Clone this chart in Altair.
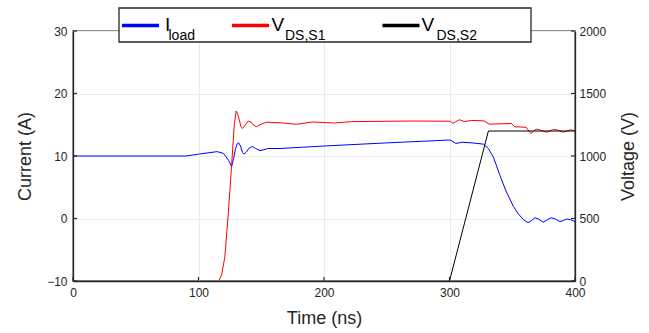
import altair as alt
import pandas as pd

# ---------------- data ----------------
time_load = [0, 90, 100, 115, 120, 124, 126.4, 128, 129.5, 131, 132, 133.5, 135, 136.3, 138,
             140.5, 143, 145.5, 149, 152, 155, 165, 200, 250,
             300, 302, 305, 310, 318, 327, 331, 335, 340, 345, 351, 355, 359, 362.6, 365, 368,
             371, 374.6, 378, 381, 384.5, 388, 391, 393.4, 396.5, 400]
i_load = [10, 10, 10.3, 10.7, 10.4, 9.3, 8.3, 9.6, 11.2, 12.0, 12.1, 11.6, 10.6, 10.3, 10.6,
          11.3, 11.5, 11.2, 10.85, 11.0, 11.2, 11.2, 11.6, 12.1,
          12.56, 12.4, 12.0, 12.2, 12.1, 11.9, 11.2, 9.8, 7.0, 4.4, 1.9, 0.7, -0.2, -0.66, -0.4,
          0.13, -0.1, -0.6, -0.2, 0.13, -0.1, -0.5, -0.3, -0.07, -0.2, -0.5]

time_s1 = [116, 118.5, 121, 123.8, 126.4, 128.5, 130, 131, 132.5, 133.8, 135, 137, 139.7, 142,
           144, 146.3, 150, 154, 165, 178, 191, 208.8, 222, 270, 301, 302.5, 305, 308, 312,
           317.6, 327.5, 331.7, 349.5, 352, 361, 364.7, 369, 373, 377.4, 383, 387, 390.6,
           396.5, 400]
v_ds_s1 = [0, 50, 194, 546, 928, 1250, 1360, 1340, 1290, 1235, 1220, 1245, 1280, 1270,
           1245, 1235, 1255, 1270, 1266, 1254, 1272, 1264, 1275, 1280, 1278, 1260, 1275, 1290,
           1275, 1285, 1281, 1255, 1260, 1234, 1230, 1180, 1216, 1205, 1190, 1213, 1205, 1190,
           1210, 1202]

time_s2 = [300, 331, 400]
v_ds_s2 = [0, 1200, 1200]

x_ticks = [0, 100, 200, 300, 400]
i_ticks = [-10, 0, 10, 20, 30]
v_ticks = [0, 500, 1000, 1500, 2000]

legend_main = ["I", "V", "V"]
legend_sub = ["load", "DS,S1", "DS,S2"]
legend_colors = ["#0000ff", "#ff0000", "#000000"]

# ---------------- layout / style ----------------
W, H = 502, 250
FONT = "Liberation Sans"
DARK = "#262626"
GRID = "#ebebeb"

xscale = alt.Scale(domain=[0, 400], nice=False, zero=False)
iscale = alt.Scale(domain=[-10, 30], nice=False, zero=False)
vscale = alt.Scale(domain=[0, 2000], nice=False, zero=True)

common_axis = dict(ticks=False, labelFont=FONT, labelFontSize=12, labelColor=DARK,
                   titleFont=FONT, titleFontSize=18, titleColor=DARK, titleFontWeight="normal",
                   domainColor=DARK, domainWidth=1.3, labelFlush=False, labelOverlap=False,
                   format="d")

xaxis = alt.Axis(values=x_ticks, title="Time (ns)", grid=True, gridColor=GRID, gridWidth=1,
                 labelPadding=6, titleX=W / 2, titleY=37, titleAlign="center",
                 titleBaseline="middle", orient="bottom", **common_axis)
iaxis = alt.Axis(values=i_ticks, title="Current (A)", grid=True, gridColor=GRID, gridWidth=1,
                 labelPadding=6, titleAngle=270, titleX=-48, titleY=H / 2, titleAlign="center",
                 titleBaseline="middle", orient="left", **common_axis)
vaxis = alt.Axis(values=v_ticks, title="Voltage (V)", grid=False, labelPadding=4,
                 titleAngle=270, titleX=53, titleY=H / 2, titleAlign="center",
                 titleBaseline="middle", orient="right", **common_axis)

df_i = pd.DataFrame({"t": time_load, "val": i_load})
df_v1 = pd.DataFrame({"t": time_s1, "val": v_ds_s1})
df_v2 = pd.DataFrame({"t": time_s2, "val": v_ds_s2})

X = alt.X("t:Q", scale=xscale, axis=xaxis)

blue = alt.Chart(df_i).mark_line(color=legend_colors[0], strokeWidth=1, clip=True).encode(
    x=X, y=alt.Y("val:Q", scale=iscale, axis=iaxis))
red = alt.Chart(df_v1).mark_line(color=legend_colors[1], strokeWidth=1, clip=True).encode(
    x=X, y=alt.Y("val:Q", scale=vscale, axis=vaxis))
black = alt.Chart(df_v2).mark_line(color=legend_colors[2], strokeWidth=1, clip=True).encode(
    x=X, y=alt.Y("val:Q", scale=vscale, axis=vaxis))

# inward tick marks
TK = 4
left_ticks = alt.Chart(pd.DataFrame({"v": i_ticks})).mark_rule(color=DARK, strokeWidth=1.2).encode(
    y=alt.Y("v:Q", scale=iscale, axis=iaxis), x=alt.value(0), x2=alt.value(TK))
bottom_ticks = alt.Chart(pd.DataFrame({"v": x_ticks})).mark_rule(color=DARK, strokeWidth=1.2).encode(
    x=alt.X("v:Q", scale=xscale, axis=xaxis), y=alt.value(H), y2=alt.value(H - TK))
right_ticks = alt.Chart(pd.DataFrame({"v": v_ticks})).mark_rule(color=DARK, strokeWidth=1.2).encode(
    y=alt.Y("v:Q", scale=vscale, axis=vaxis), x=alt.value(W - TK), x2=alt.value(W))

current_group = alt.layer(blue, left_ticks, bottom_ticks)
voltage_group = alt.layer(red, black, right_ticks)

# legend (drawn manually to get subscripts)
one = alt.Data(values=[{}])
legend_layers = [
    alt.Chart(one).mark_rect(fill="white", stroke=DARK, strokeWidth=1.3).encode(
        x=alt.value(46), x2=alt.value(458), y=alt.value(-23), y2=alt.value(11))
]
line_x = [49, 159, 309.5]
main_x = [92, 198.5, 348.5]
sub_x = [95.5, 212, 363.5]
for k in range(3):
    legend_layers.append(
        alt.Chart(one).mark_rule(color=legend_colors[k], strokeWidth=3.5).encode(
            x=alt.value(line_x[k]), x2=alt.value(line_x[k] + 37), y=alt.value(-5.5)))
    legend_layers.append(
        alt.Chart(one).mark_text(text=legend_main[k], font=FONT, fontSize=19, color="black",
                                 align="left", baseline="alphabetic").encode(
            x=alt.value(main_x[k]), y=alt.value(0)))
    legend_layers.append(
        alt.Chart(one).mark_text(text=legend_sub[k], font=FONT, fontSize=14, color="black",
                                 align="left", baseline="alphabetic").encode(
            x=alt.value(sub_x[k]), y=alt.value(8.5)))

chart = alt.layer(current_group, voltage_group, *legend_layers).resolve_scale(
    y="independent"
).properties(
    width=W, height=H,
    autosize=alt.AutoSizeParams(type="none"),
    padding={"left": 73, "top": 31, "right": 74, "bottom": 52},
    background="white",
).configure_view(stroke=DARK, strokeWidth=1.3)

chart.save("out.html", embed_options={"renderer": "svg", "actions": False})
